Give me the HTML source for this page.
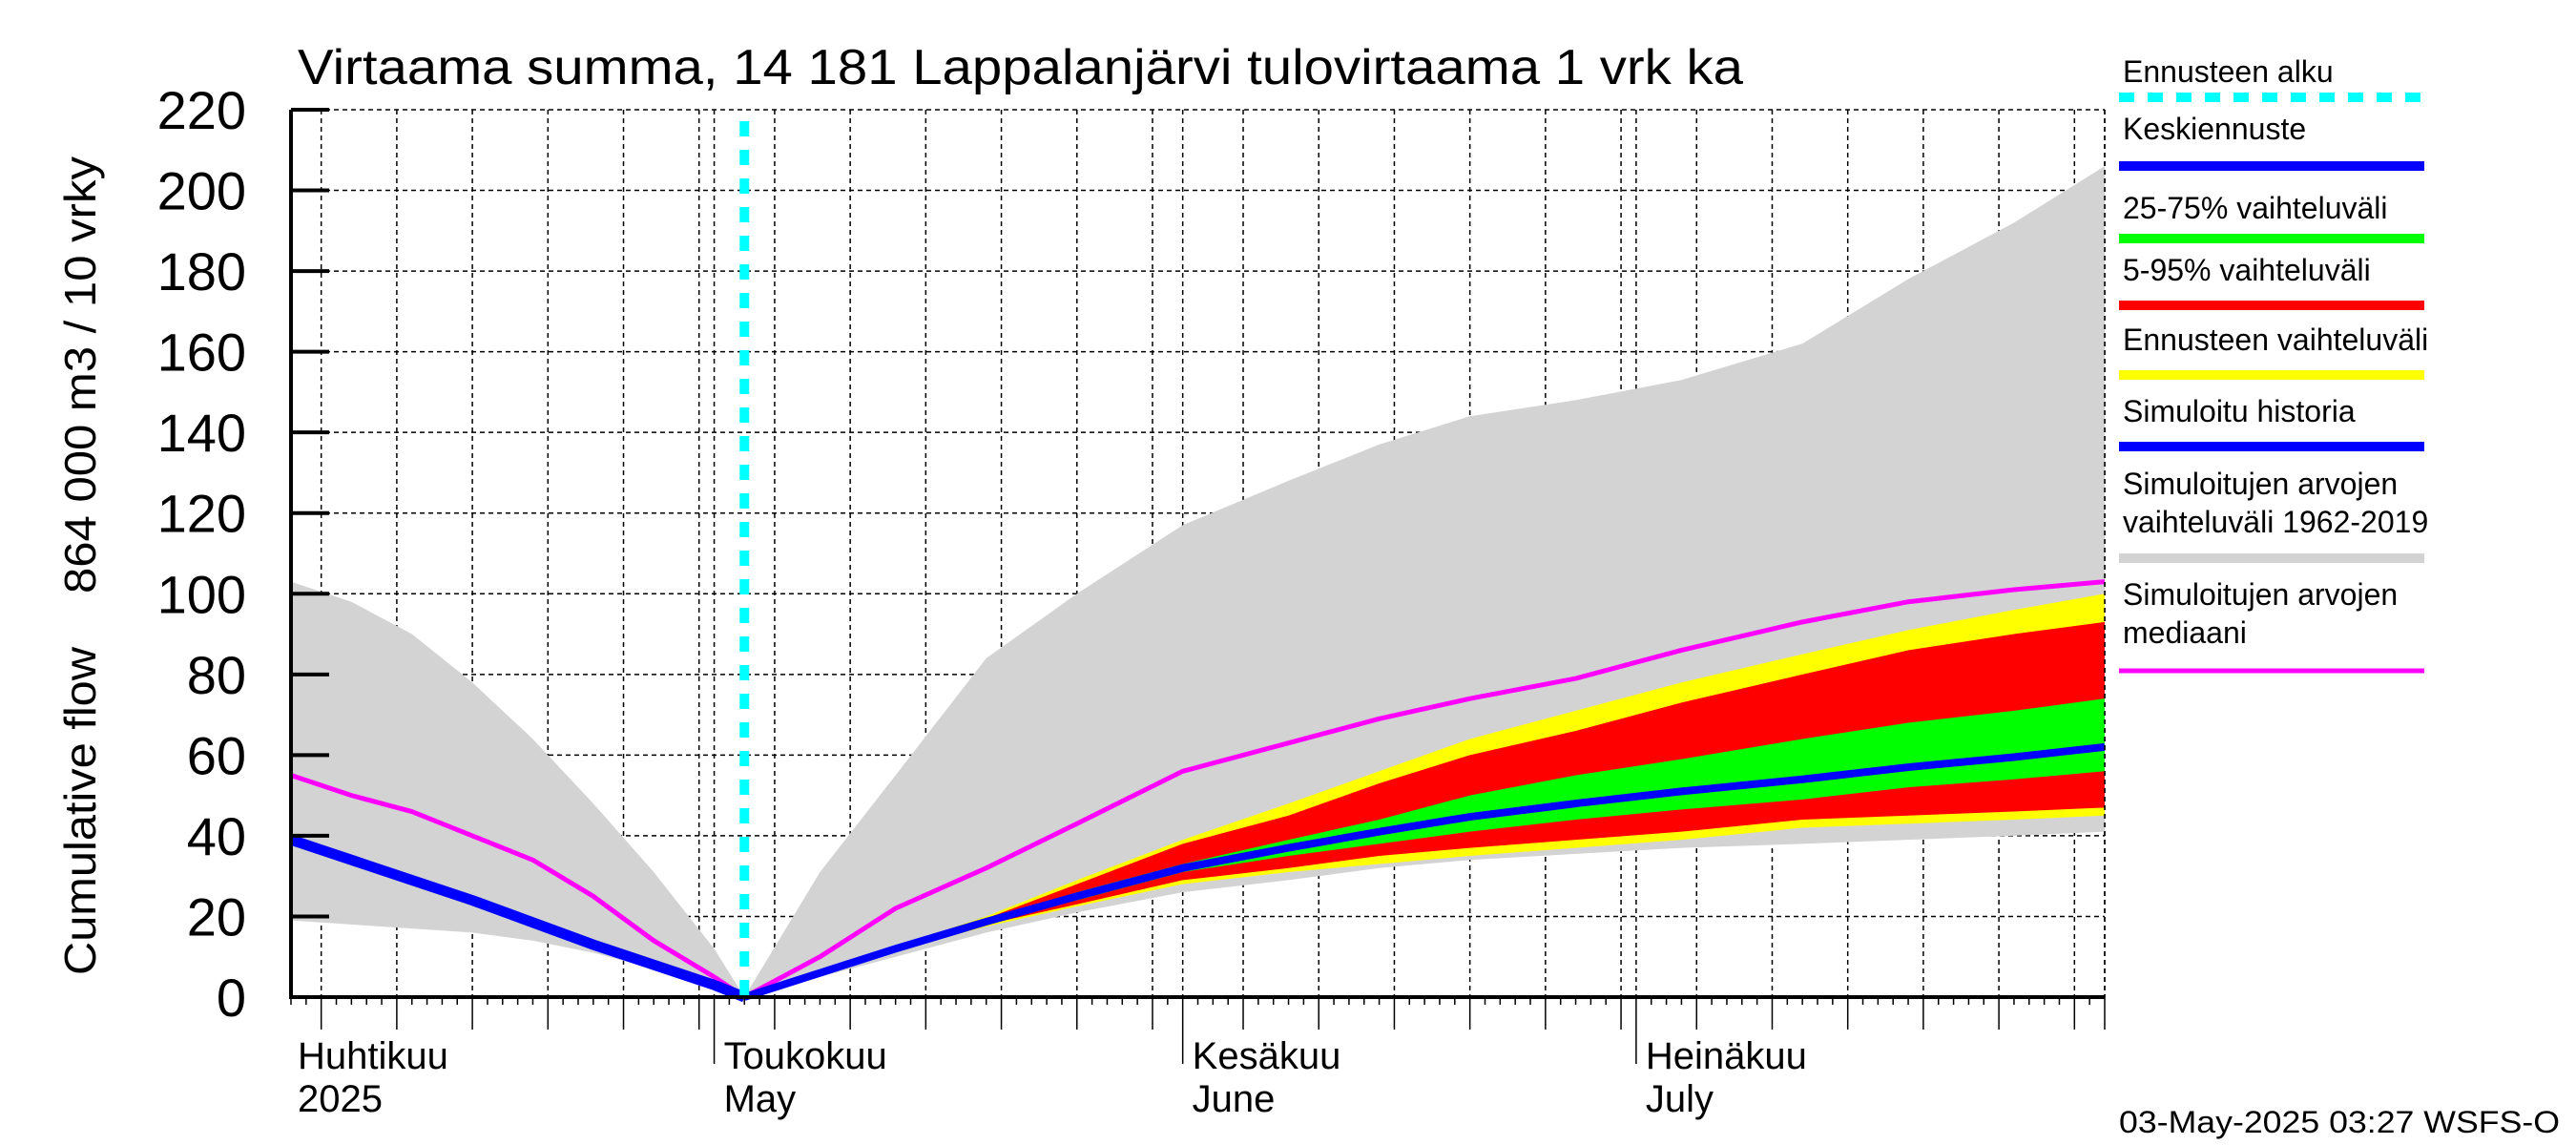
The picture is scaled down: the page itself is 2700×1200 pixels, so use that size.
<!DOCTYPE html>
<html><head><meta charset="utf-8"><style>
html,body{margin:0;padding:0;background:#fff;}
svg{display:block;font-family:"Liberation Sans",Arial,sans-serif;}
</style></head><body>
<svg id="chart" width="2700" height="1200" viewBox="0 0 2700 1200" xmlns="http://www.w3.org/2000/svg">
<g id="grid"></g>
<g id="marks"></g>
<g id="axes"></g>
<text x="312" y="88" font-size="52" textLength="1515" lengthAdjust="spacingAndGlyphs">Virtaama summa, 14 181 Lappalanjärvi tulovirtaama 1 vrk ka</text>
<text transform="translate(100,1022) rotate(-90)" font-size="46" textLength="344" lengthAdjust="spacingAndGlyphs">Cumulative flow</text>
<text transform="translate(100,622) rotate(-90)" font-size="46" textLength="458" lengthAdjust="spacingAndGlyphs">864 000 m3 / 10 vrky</text>
<g id="legend"></g>
<text x="2221" y="1187" font-size="32" textLength="462" lengthAdjust="spacingAndGlyphs">03-May-2025 03:27 WSFS-O</text>
</svg>
<script>
// days counted from Apr 3 2025 (day 0); plot spans day 0..120
const histDays = [0,4,8,12,16,20,24,28,30];
const histBlue = [39,34,29,24,18.5,13,8,3,0];
const histMagenta = [55,50,46,40,34,25,14,5,0];
const histGreyUpper = [103,98,90,78,64,48,31,12,0];
const histGreyLower = [19,18,17,16,14,11,7,3,0];

const fcDays = [30,35,40,46,52,59,66,72,78,85,92,100,107,114,120];
const fcMedian = [0,6,12,18.7,25,32,37,41,44.7,48,51,54,57,59.5,62];
const fcYellowUpper = [0,6,12.5,20,29,39,48,56,64,71,78,85,91,96,100];
const fcRedUpper = [0,6,12.3,19.5,28,38,45,53,60,66,73,80,86,90,93];
const fcGreenUpper = [0,6,12,19,26,33,39,44,50,55,59,64,68,71,74];
const fcGreenLower = [0,6,12,18.5,24,31,35,38,41,44,46.5,49,52,54,56];
const fcRedLower = [0,6,12,18,23,29,32,35,37,39,41,44,45,46,47];
const fcYellowLower = [0,6,11.5,17.5,22.5,28,31,33,35,37,39,42,43,44,45];
const fcGreyUpper = [0,31,55,84,100,117,128,137,144,148,153,162,178,192,206];
const fcGreyLower = [0,5,10,16,21,26,29,32,34,35.5,37,38,39,40,41];
const fcMagenta = [0,10,22,32,43,56,63,69,74,79,86,93,98,101,103];

const yTicks = [0,20,40,60,80,100,120,140,160,180,200,220];
const monthStartDays = [28,59,89];
const monthLabels = [["Huhtikuu","2025"],["Toukokuu","May"],["Kesäkuu","June"],["Heinäkuu","July"]];
const monthLabelDays = [0,28,59,89];
const forecastStartDay = 30;

const X0=305, X1=2206, Y0=1045, Y1=115, DMAX=120, VMAX=220;
const x = d => X0 + (X1-X0)*d/DMAX;
const y = v => Y0 - (Y0-Y1)*v/VMAX;
const NS="http://www.w3.org/2000/svg";
function mk(tag, parent, attrs){const e=document.createElementNS(NS,tag);for(const k in attrs)e.setAttribute(k,attrs[k]);parent.appendChild(e);return e;}
const grid=document.getElementById('grid'), marks=document.getElementById('marks'), axes=document.getElementById('axes'), legend=document.getElementById('legend');

const gridDays=[];
for(let d=0; d<=DMAX; d++){
  const dt=new Date(2025,3,3+d); const dom=dt.getDate();
  if(dom%5===0 || dom===1) gridDays.push(d);
}
gridDays.forEach(d=>{const l=mk('line',grid,{x1:x(d),x2:x(d),y1:Y1,y2:Y0,stroke:'#000','stroke-width':1.5,'stroke-dasharray':'5,4'});

});
yTicks.forEach(v=>{const l=mk('line',grid,{x1:X0,x2:X1,y1:y(v),y2:y(v),stroke:'#000','stroke-width':1.5,'stroke-dasharray':'5,4'});

});

function band(days, up, lo, fill, name){
  let pts=days.map((d,i)=>x(d)+','+y(up[i]));
  for(let i=days.length-1;i>=0;i--) pts.push(x(days[i])+','+y(lo[i]));
  const p=mk('polygon',marks,{points:pts.join(' '),fill:fill});
  
  
}
function line(days, vals, color, w, name){
  const p=mk('polyline',marks,{points:days.map((d,i)=>x(d)+','+y(vals[i])).join(' '),fill:'none',stroke:color,'stroke-width':w,'stroke-linejoin':'round'});
  
  
}
band(histDays.concat(fcDays), histGreyUpper.concat(fcGreyUpper), histGreyLower.concat(fcGreyLower), '#d3d3d3','simulated-range-band');
band(fcDays, fcYellowUpper, fcYellowLower, '#ffff00','forecast-range-band');
band(fcDays, fcRedUpper, fcRedLower, '#ff0000','band-5-95');
band(fcDays, fcGreenUpper, fcGreenLower, '#00ff00','band-25-75');
line(histDays.concat(fcDays), histMagenta.concat(fcMagenta), '#ff00ff', 5, 'simulated-median-line');
line(histDays, histBlue, '#0000ff', 11, 'simulated-history-line');
line(fcDays, fcMedian, '#0000ff', 8, 'forecast-median-line');
const fl=mk('line',marks,{x1:x(forecastStartDay),x2:x(forecastStartDay),y1:Y1+12,y2:Y0,stroke:'#00ffff','stroke-width':10,'stroke-dasharray':'16,14'});



const ax=mk('path',axes,{d:`M${X0},${Y1} V${Y0} H${X1}`,fill:'none',stroke:'#000','stroke-width':4});


const ra=mk('line',axes,{x1:X1,x2:X1,y1:Y1,y2:Y0,stroke:'#000','stroke-width':1.5,'stroke-dasharray':'5,4'});


yTicks.forEach(v=>{
  const t=mk('line',axes,{x1:X0,x2:X0+40,y1:y(v),y2:y(v),stroke:'#000','stroke-width':4});
  
  
  const tx=mk('text',axes,{x:258,y:y(v)+20,'font-size':56,'text-anchor':'end'});
  tx.textContent=String(v);
  
  
});
for(let d=0; d<=DMAX; d++){
  const isGrid=gridDays.includes(d), isMonth=monthStartDays.includes(d);
  const len=isMonth?70:(isGrid?34:8);
  const t=mk('line',axes,{x1:x(d),x2:x(d),y1:Y0,y2:Y0+len,stroke:'#000','stroke-width':1.5});
  
  
}
monthLabels.forEach((m,i)=>{
  const xx=i===0?312:x(monthLabelDays[i])+10;
  const a=mk('text',axes,{x:xx,y:1120,'font-size':40});a.textContent=m[0];
  
  
  const b=mk('text',axes,{x:xx,y:1165,'font-size':40});b.textContent=m[1];
  
  
});

const legItems=[
 [["Ennusteen alku"],'#00ffff',86,102,true],
 [["Keskiennuste"],'#0000ff',146,174,false],
 [["25-75% vaihteluväli"],'#00ff00',229,250,false],
 [["5-95% vaihteluväli"],'#ff0000',294,320,false],
 [["Ennusteen vaihteluväli"],'#ffff00',367,393,false],
 [["Simuloitu historia"],'#0000ff',442,468,false],
 [["Simuloitujen arvojen","vaihteluväli 1962-2019"],'#d3d3d3',518,585,false],
 [["Simuloitujen arvojen","mediaani"],'#ff00ff',634,703,false]
];
legItems.forEach(it=>{
  it[0].forEach((s,j)=>{
    const t=mk('text',legend,{x:2225,y:it[2]+j*40,'font-size':32});t.textContent=s;
    
    
  });
  const w=it[1]==='#ff00ff'?5:10;
  const l=mk('line',legend,{x1:2221,x2:2541,y1:it[3],y2:it[3],stroke:it[1],'stroke-width':w});
  if(it[4]) l.setAttribute('stroke-dasharray','16,14');
  
  
});
</script>
</body></html>
